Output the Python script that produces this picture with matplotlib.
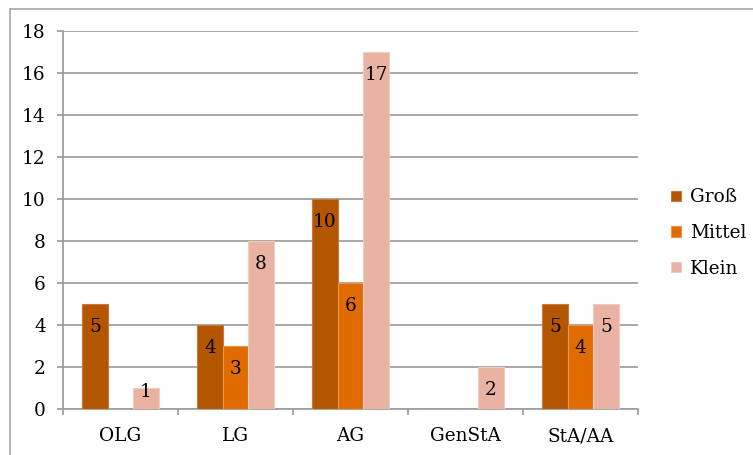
import numpy as np
import matplotlib
matplotlib.use("Agg")
import matplotlib.pyplot as plt
from matplotlib.lines import Line2D

# ---- Data ----
categories = ["OLG", "LG", "AG", "GenStA", "StA/AA"]
series_names = ["Groß", "Mittel", "Klein"]
gross = [5, 4, 10, 0, 5]
mittel = [0, 3, 6, 0, 4]
klein = [1, 8, 17, 2, 5]

colors = ["#B45500", "#E06C00", "#EAB2A2"]
edges = ["#C77A40", "#EC9450", "#F2CCC0"]

plt.rcParams["font.family"] = ["DejaVu Serif"]
FS = 13.3

fig = plt.figure(figsize=(7.53, 4.55), dpi=100)
ax = fig.add_axes([63 / 753, 1 - 409 / 455, 575 / 753, 378 / 455])

x = np.arange(len(categories))
w = 1 / 4.5
for k, (vals, c, ec, name) in enumerate(zip([gross, mittel, klein], colors, edges, series_names)):
    xs = x + (k - 1) * w
    ax.bar(xs, vals, width=w, color=c, edgecolor=ec, linewidth=0.8, label=name, zorder=3)
    for xi, v in zip(xs, vals):
        if v > 0:
            # Excel-style "inside end" label, kept above the axis for short bars
            ax.text(xi, max(v - 1.1, 0.8), str(v), ha="center", va="center",
                    fontsize=FS, color="black", zorder=4)

grid_c = "#A0A0A0"
ax.set_ylim(0, 18)
ax.set_xlim(-0.5, len(categories) - 0.5)
ax.set_yticks(np.arange(0, 19, 2))
ax.yaxis.grid(True, color=grid_c, linewidth=1.3, zorder=0)
ax.set_axisbelow(True)

# boundaries as major ticks, category names on minor ticks
ax.set_xticks(np.arange(-0.5, len(categories), 1.0))
ax.set_xticklabels([])
ax.set_xticks(x, minor=True)
ax.set_xticklabels(categories, minor=True)
ax.tick_params(axis="x", which="major", length=4.5, color=grid_c, width=1.3, direction="out")
ax.tick_params(axis="x", which="minor", length=0, pad=13, labelsize=FS)
ax.tick_params(axis="y", length=4.5, color=grid_c, width=1.3, pad=8, labelsize=FS)

for s in ["top", "right"]:
    ax.spines[s].set_visible(False)
for s in ["left", "bottom"]:
    ax.spines[s].set_color(grid_c)
    ax.spines[s].set_linewidth(1.3)

fig.legend(loc="center left", bbox_to_anchor=(664 / 753, 1 - 233 / 455),
           frameon=False, fontsize=FS, handlelength=0.5, handleheight=0.5,
           handletextpad=0.5, labelspacing=0.95, borderaxespad=0)

# outer chart border (cut off at right and bottom in the reference)
bx, by = 9.5 / 753, 1 - 8.5 / 455
fig.add_artist(Line2D([bx, 1.0], [by, by], color="#A8A8A8", linewidth=1.2))
fig.add_artist(Line2D([bx, bx], [0, by], color="#A8A8A8", linewidth=1.2))

fig.savefig("out.png", dpi=100, facecolor="white")
